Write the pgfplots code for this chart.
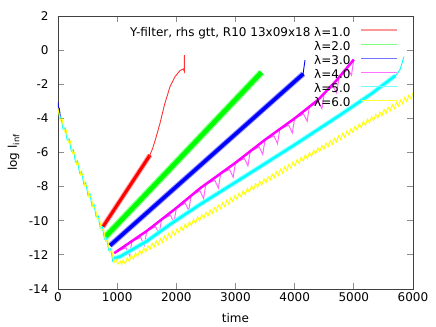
\documentclass[border=0pt]{standalone}
\usepackage{fontspec}
\setmainfont{DejaVu Sans}
\usepackage{pgfplots}
\pgfplotsset{compat=1.18}

\definecolor{gpred}{RGB}{255,0,0}
\definecolor{gpgreen}{RGB}{0,255,0}
\definecolor{gpblue}{RGB}{0,0,255}
\definecolor{gpmagenta}{RGB}{255,0,255}
\definecolor{gpcyan}{RGB}{0,255,255}
\definecolor{gpyellow}{RGB}{255,255,0}

\begin{document}
\begin{tikzpicture}[font=\fontsize{12bp}{14bp}\selectfont]
\begin{axis}[
    at={(0,0)}, anchor=south west,
    scale only axis, width=355bp, height=273bp,
    xmin=0, xmax=6000, ymin=-14, ymax=2,
    xtick={0,1000,...,6000}, ytick={-14,-12,...,2},
    /pgf/number format/assume math mode=true,
    /pgf/number format/1000 sep={},
    axis line style={black!75, line width=0.8bp},
    major tick length=6bp,
    tick style={black!45, line width=0.8bp},
    yticklabel style={xshift=-6bp},
    xlabel={time},
    ylabel={log l\textsubscript{inf}},
    xlabel style={at={(axis description cs:0.5,-0.1234)}, anchor=base},
    ylabel style={at={(axis description cs:-0.1155,0.5)}, anchor=base},
    legend style={at={(rel axis cs:0.958,0.956)}, anchor=north east,
        draw=none, fill=none, inner sep=0pt, outer sep=0pt,
        nodes={inner sep=0pt, text height=8bp, text depth=2.5bp},
        row sep=3.5bp, column sep=10bp},
    legend plot pos=right,
    legend cell align=right,
    legend image code/.code={\draw[#1] (0bp,3bp) -- (36bp,3bp);},
]

% legend samples
\addlegendimage{gpred!40, line width=1.6bp}
\addlegendentry{Y-filter, rhs gtt, R10 13x09x18 λ=1.0}
\addlegendimage{gpgreen!50, line width=0.8bp}
\addlegendentry{λ=2.0}
\addlegendimage{gpblue!55, line width=0.8bp}
\addlegendentry{λ=3.0}
\addlegendimage{gpmagenta!55, line width=0.8bp}
\addlegendentry{λ=4.0}
\addlegendimage{gpcyan!55, line width=0.8bp}
\addlegendentry{λ=5.0}
\addlegendimage{gpyellow!80, line width=0.8bp}
\addlegendentry{λ=6.0}

% lambda = 1.0
\addplot[gpred!40, line width=5bp, forget plot] coordinates {(760,-10.35)(1555,-6.15)};
\addplot[gpred, line width=3bp, forget plot] coordinates {(760,-10.35)(1555,-6.15)};
\addplot[gpred!80, line width=0.9bp, forget plot] coordinates {
 (1540,-6.25)(1600,-5.76)(1650,-5.2)(1724,-4.29)(1800,-3.2)(1893,-2.14)
 (1977,-1.56)(2062,-1.2)(2118,-1.1)(2130,-1.2)(2136,-1.25)(2136,-0.3)};

% lambda = 2.0
\addplot[gpgreen, line width=0.8bp, forget plot] coordinates {(0,-3.5)(15,-3.75)(30,-3.6)};
\addplot[gpgreen!45, line width=7bp, forget plot] coordinates {(800,-10.95)(3440,-1.30)};
\addplot[gpgreen, line width=4.5bp, forget plot] coordinates {(800,-10.95)(3440,-1.30)};

% lambda = 3.0
\addplot[gpblue, line width=0.8bp, forget plot] coordinates {(0,-3.05)(12,-3.6)(25,-3.45)(40,-3.9)};
\addplot[gpblue!45, line width=5.5bp, forget plot] coordinates {(880,-11.45)(4146,-1.39)};
\addplot[gpblue, line width=3.5bp, forget plot] coordinates {(880,-11.45)(4146,-1.39)};
\addplot[gpblue, line width=0.9bp, forget plot] coordinates {(4140,-1.45)(4146,-1.3)(4175,-0.58)};

% lambda = 4.0
\addplot[gpmagenta!60, line width=1bp, forget plot] coordinates {
 (950,-11.9)(1000,-11.78)(1150,-11.58)(1210,-12.04)(1250,-11.19)(1400,-10.99)
 (1460,-11.44)(1500,-10.6)(1650,-10.35)(1710,-10.78)(1750,-9.93)(1900,-9.67)
 (1960,-10.11)(2000,-9.25)(2150,-8.97)(2210,-9.40)(2250,-8.53)(2400,-8.25)
 (2460,-8.70)(2500,-7.85)(2650,-7.63)(2710,-8.08)(2750,-7.23)(2900,-7.00)
 (2960,-7.45)(3000,-6.6)(3150,-6.35)(3210,-6.78)(3250,-5.93)(3400,-5.67)
 (3460,-6.11)(3500,-5.25)(3650,-5.03)(3710,-5.48)(3750,-4.63)(3900,-4.40)
 (3960,-4.85)(4000,-4.0)(4150,-3.74)(4210,-4.17)(4250,-3.31)(4400,-3.05)
 (4460,-3.43)(4500,-2.53)(4650,-2.13)(4710,-2.51)(4750,-1.59)(4900,-1.12)
 (4960,-1.47)(5000,-0.55)};
\addplot[gpmagenta, line width=2.5bp, forget plot] coordinates {
 (950,-11.9)(1500,-10.6)(2000,-9.25)(2400,-8.1)(3000,-6.6)(3500,-5.25)
 (4000,-4.0)(4400,-2.9)(4700,-1.8)(5000,-0.55)};

% lambda = 5.0
\addplot[gpcyan, line width=0.9bp, forget plot] coordinates {
 (15,-3.99)(50,-3.91)(85,-4.63)(120,-4.55)(155,-5.28)(190,-5.20)(225,-5.92)
 (260,-5.84)(295,-6.56)(330,-6.49)(365,-7.21)(400,-7.13)(435,-7.85)(470,-7.77)
 (505,-8.50)(540,-8.42)(575,-9.14)(610,-9.06)(645,-9.78)(680,-9.71)(715,-10.43)
 (750,-10.35)(785,-11.07)(820,-10.99)(855,-11.72)(890,-11.64)(925,-12.36)(950,-12.2)};
\addplot[gpcyan!45, line width=4.5bp, forget plot] coordinates {
 (950,-12.2)(1050,-12.1)(1500,-11.2)(1900,-10.2)(2400,-9.05)(3250,-7.2)
 (4000,-5.55)(4770,-3.8)(5300,-2.55)(5700,-1.5)};
\addplot[gpcyan, line width=2.5bp, forget plot] coordinates {
 (950,-12.2)(1050,-12.1)(1500,-11.2)(1900,-10.2)(2400,-9.05)(3250,-7.2)
 (4000,-5.55)(4770,-3.8)(5300,-2.55)(5700,-1.5)};
\addplot[gpcyan, line width=0.9bp, forget plot] coordinates {
 (5690,-1.55)(5740,-1.35)(5780,-1.15)(5820,-0.7)(5845,-0.38)};

% lambda = 6.0
\addplot[gpyellow, line width=0.9bp, forget plot] coordinates {
 (0,-3.4)(35,-4.12)(70,-4.04)(105,-4.77)(140,-4.69)(175,-5.41)(210,-5.33)
 (245,-6.05)(280,-5.98)(315,-6.70)(350,-6.62)(385,-7.34)(420,-7.26)(455,-7.99)
 (490,-7.91)(525,-8.63)(560,-8.55)(595,-9.27)(630,-9.20)(665,-9.92)(700,-9.84)
 (735,-10.56)(770,-10.48)(805,-11.21)(840,-11.13)(875,-11.85)(910,-11.77)
 (945,-12.45)(980,-12.25)(1015,-12.55)(1050,-12.35)(1075,-12.55)
 (1100,-12.30)(1135,-12.53)(1170,-12.16)(1205,-12.39)(1240,-12.02)(1275,-12.25)
 (1310,-11.88)(1345,-12.11)(1380,-11.74)(1415,-11.97)(1450,-11.60)(1485,-11.83)
 (1520,-11.46)(1555,-11.69)(1590,-11.32)(1625,-11.55)(1660,-11.18)(1695,-11.41)
 (1730,-11.04)(1765,-11.27)(1800,-10.90)(1835,-11.13)(1870,-10.76)(1905,-10.99)
 (1940,-10.62)(1975,-10.85)(2010,-10.48)(2045,-10.71)(2080,-10.34)(2115,-10.57)
 (2150,-10.20)(2185,-10.43)(2220,-10.06)(2255,-10.29)(2290,-9.92)(2325,-10.15)
 (2360,-9.78)(2395,-10.01)(2430,-9.64)(2465,-9.87)(2500,-9.50)(2535,-9.73)
 (2570,-9.36)(2605,-9.59)(2640,-9.22)(2675,-9.45)(2710,-9.08)(2745,-9.31)
 (2780,-8.94)(2815,-9.17)(2850,-8.80)(2885,-9.03)(2920,-8.66)(2955,-8.89)
 (2990,-8.52)(3025,-8.75)(3060,-8.38)(3095,-8.61)(3130,-8.24)(3165,-8.47)
 (3200,-8.10)(3235,-8.33)(3270,-7.96)(3305,-8.19)(3340,-7.82)(3375,-8.05)
 (3410,-7.68)(3445,-7.91)(3480,-7.54)(3515,-7.77)(3550,-7.40)(3585,-7.63)
 (3620,-7.26)(3655,-7.49)(3690,-7.12)(3725,-7.35)(3760,-6.98)(3795,-7.21)
 (3830,-6.84)(3865,-7.07)(3900,-6.70)(3935,-6.93)(3970,-6.56)(4005,-6.79)
 (4040,-6.42)(4075,-6.65)(4110,-6.28)(4145,-6.51)(4180,-6.14)(4215,-6.37)
 (4250,-6.00)(4285,-6.23)(4320,-5.86)(4355,-6.09)(4390,-5.72)(4425,-5.95)
 (4460,-5.58)(4495,-5.81)(4530,-5.44)(4565,-5.67)(4600,-5.30)(4635,-5.53)
 (4670,-5.16)(4705,-5.39)(4740,-5.02)(4775,-5.25)(4810,-4.88)(4845,-5.11)
 (4880,-4.74)(4915,-4.97)(4950,-4.60)(4985,-4.83)(5020,-4.46)(5055,-4.69)
 (5090,-4.32)(5125,-4.55)(5160,-4.18)(5195,-4.41)(5230,-4.04)(5265,-4.27)
 (5300,-3.90)(5335,-4.13)(5370,-3.76)(5405,-3.99)(5440,-3.62)(5475,-3.85)
 (5510,-3.48)(5545,-3.71)(5580,-3.34)(5615,-3.57)(5650,-3.20)(5685,-3.43)
 (5720,-3.06)(5755,-3.29)(5790,-2.92)(5825,-3.15)(5860,-2.78)(5895,-3.01)
 (5930,-2.64)(5965,-2.87)(6000,-2.50)};

\end{axis}
\pgfresetboundingbox
\path (-58bp,-38bp) rectangle (378bp,289bp);
\end{tikzpicture}
\end{document}
